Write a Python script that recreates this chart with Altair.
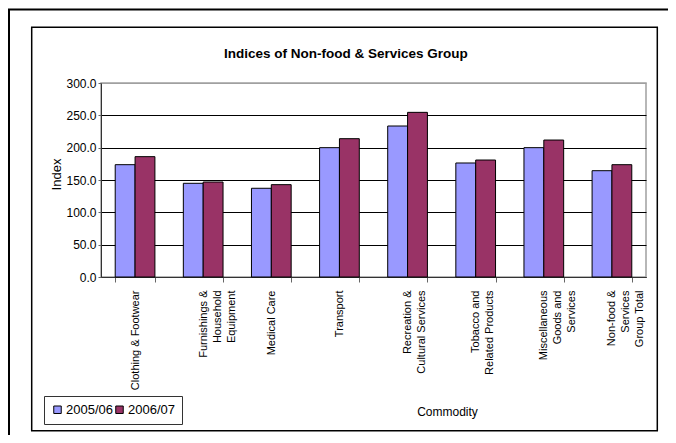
import altair as alt
import pandas as pd

# ---- data ----
categories = [
    "Clothing & Footwear",
    "Furnishings &|Household|Equipment",
    "Medical Care",
    "Transport",
    "Recreation &|Cultural Services",
    "Tobacco and|Related Products",
    "Miscellaneous|Goods and|Services",
    "Non-food &|Services|Group Total",
]
series = ["2005/06", "2006/07"]
values_2005_06 = [173.7, 144.9, 137.2, 200.0, 233.5, 176.3, 200.0, 164.4]
values_2006_07 = [186.1, 146.9, 142.8, 213.9, 254.6, 180.9, 211.8, 173.7]
y_ticks = [0, 50, 100, 150, 200, 250, 300]
colors = ["#9999FF", "#993366"]
chart_title = "Indices of Non-food & Services Group"

rows = []
for c, a, b in zip(categories, values_2005_06, values_2006_07):
    rows.append({"Commodity": c, "Year": series[0], "Index": a})
    rows.append({"Commodity": c, "Year": series[1], "Index": b})
df = pd.DataFrame(rows)

FONT = "Liberation Sans"

W, H = 545, 194
PL, PT = 93, 75
PR = 660 - PL - W
PB = 427 - PT - H

one_row = alt.Data(values=[{"t": chart_title}])
outer = alt.Chart(one_row).mark_rect(fillOpacity=0, stroke="black", strokeWidth=2).encode(
    x=alt.value(-92), x2=alt.value(700), y=alt.value(-73.5), y2=alt.value(500)
)
inner = alt.Chart(one_row).mark_rect(fillOpacity=0, stroke="black", strokeWidth=1.5).encode(
    x=alt.value(-69.3), x2=alt.value(556.3), y=alt.value(-55.7), y2=alt.value(347.7)
)
title = alt.Chart(one_row).mark_text(
    font=FONT, fontSize=13.5, fontWeight="bold", color="black",
    align="center", baseline="alphabetic",
).encode(text="t:N", x=alt.value(244.8), y=alt.value(-24.7))

bars = alt.Chart(df).mark_bar(stroke="black", strokeWidth=1).encode(
    x=alt.X(
        "Commodity:N",
        sort=categories,
        scale=alt.Scale(paddingInner=0.417, paddingOuter=0.2085),
        axis=alt.Axis(
            title="Commodity",
            labelAngle=270,
            labelAlign="right",
            labelBaseline="middle",
            labelExpr="split(datum.label, '|')",
            labelFont=FONT,
            labelFontSize=11,
            labelLineHeight=14,
            labelPadding=8,
            labelLimit=0,
            labelColor="black",
            tickBand="extent",
            tickSize=5,
            tickColor="#666666",
            domainColor="#333333",
            grid=False,
            titleFont=FONT,
            titleFontSize=12,
            titleFontWeight="normal",
            titleColor="black",
            titleX=346,
            titleY=134,
            titleBaseline="middle",
            titleAlign="center",
        ),
    ),
    xOffset=alt.XOffset("Year:N", sort=series),
    y=alt.Y(
        "Index:Q",
        scale=alt.Scale(domain=[0, 300], nice=False),
        axis=alt.Axis(
            values=y_ticks,
            format=".1f",
            title="Index",
            labelFont=FONT,
            labelFontSize=12,
            labelColor="black",
            labelPadding=2,
            tickSize=3,
            tickColor="#666666",
            domainColor="#333333",
            gridColor={"condition": {"test": "datum.value === 300", "value": "#a0a0a0"}, "value": "black"},
            gridWidth=1,
            titleFont=FONT,
            titleFontSize=13,
            titleFontWeight="normal",
            titleColor="black",
            titleX=-44.5,
            titleY=91,
            titleAngle=270,
            titleAlign="center",
            titleBaseline="middle",
        ),
    ),
    color=alt.Color(
        "Year:N",
        scale=alt.Scale(domain=series, range=colors),
        legend=alt.Legend(
            orient="none",
            legendX=-57,
            legendY=313,
            direction="horizontal",
            title=None,
            fillColor="white",
            strokeColor="#333333",
            padding=7,
            symbolType="square",
            symbolSize=56,
            symbolStrokeColor="black",
            symbolStrokeWidth=1,
            labelFont=FONT,
            labelFontSize=13,
            labelColor="black",
            columnPadding=0,
            labelOffset=2,
        ),
    ),
)

chart = (
    alt.layer(outer, inner, title, bars)
    .properties(
        width=W,
        height=H,
        padding={"left": PL, "top": PT, "right": PR, "bottom": PB},
        autosize=alt.AutoSizeParams(type="none"),
        background="white",
    )
    .configure_view(stroke="#a0a0a0", strokeWidth=1.5)
)

chart.save("out.html", embed_options={"renderer": "svg", "actions": False})
